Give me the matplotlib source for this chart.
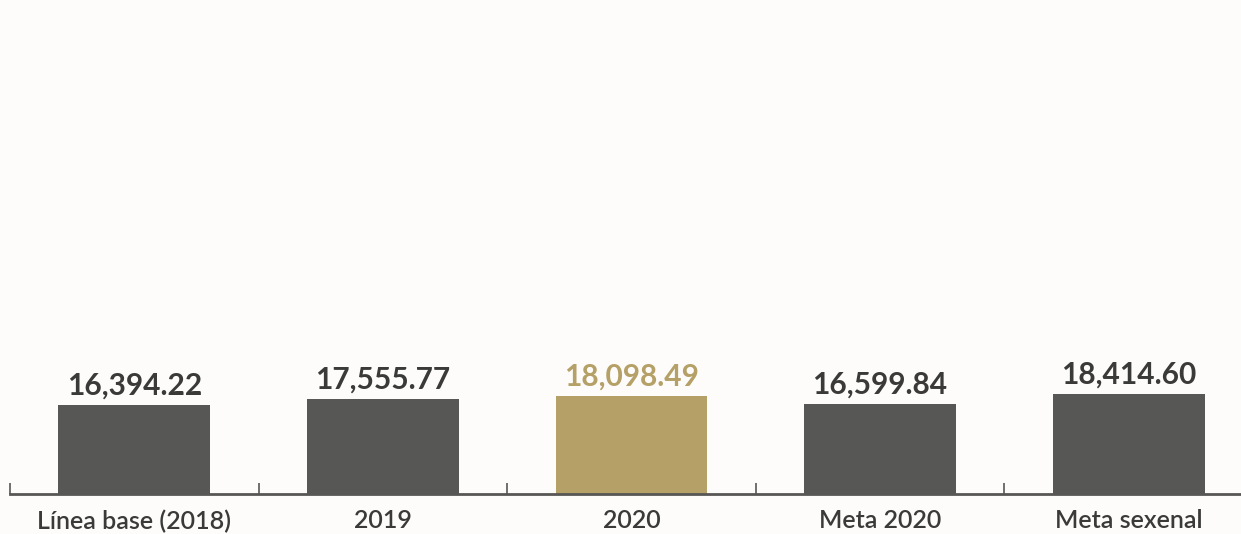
import numpy as np
import matplotlib
matplotlib.use("Agg")
import matplotlib.pyplot as plt

categories = ["Línea base (2018)", "2019", "2020", "Meta 2020", "Meta sexenal"]
values = [16394.22, 17555.77, 18098.49, 16599.84, 18414.60]
highlight = "2020"

BG = "#fdfcfa"
GRAY = "#575756"
GOLD = "#b5a067"
TEXT = "#3a3a39"

fig = plt.figure(figsize=(12.41, 5.34), dpi=100, facecolor=BG)
# axes spans from left tick to right edge, baseline at y=494 px
ax = fig.add_axes([10 / 1241, (534 - 494) / 534, 1 - 10 / 1241, 494 / 534])
ax.set_facecolor(BG)

x = np.arange(len(categories))
colors = [GOLD if c == highlight else GRAY for c in categories]
bars = ax.bar(x, values, width=0.611, color=colors, zorder=2)

for b, v, c in zip(bars, values, colors):
    ax.annotate(f"{v:,.2f}", (b.get_x() + b.get_width() / 2, v),
                xytext=(0, 4), textcoords="offset points",
                ha="center", va="bottom", fontsize=21.5, fontweight="bold",
                family="Lato", color=GOLD if c == GOLD else TEXT)

ax.set_xlim(-0.498, 4.452)
ax.set_ylim(0, 91000)

for s in ["top", "right", "left"]:
    ax.spines[s].set_visible(False)
ax.spines["bottom"].set_color(GRAY)
ax.spines["bottom"].set_linewidth(2)

ax.set_yticks([])
ax.set_xticks(np.arange(len(categories)) - 0.5, minor=False)
ax.set_xticklabels([])
ax.tick_params(axis="x", which="major", direction="in", length=8, width=1.2, color=GRAY)
ax.set_xticks(x, minor=True)
ax.set_xticklabels(categories, minor=True, fontsize=18, family="Lato",
                   fontweight="semibold", color=TEXT)
ax.tick_params(axis="x", which="minor", length=0, pad=11)

fig.savefig("out.png", dpi=100, facecolor=BG)
